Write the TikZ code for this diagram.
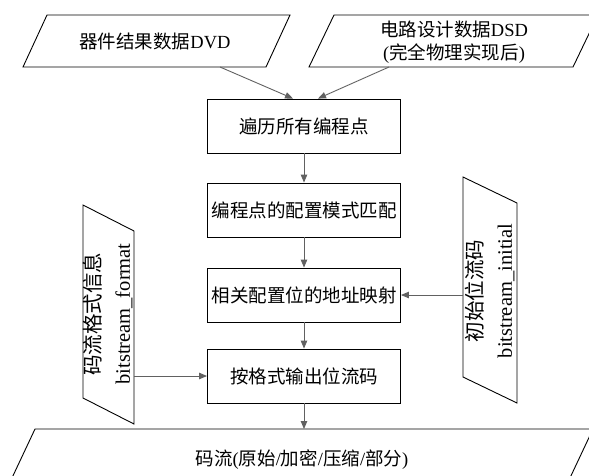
\documentclass[tikz,border=0pt]{standalone}
\usepackage{fontspec}
\setmainfont{Liberation Serif}
\newfontfamily\cjk{Noto Sans CJK SC}
\usetikzlibrary{arrows.meta}

\begin{document}
\begin{tikzpicture}[x=1pt,y=-1pt,line width=0.9pt,
  stepbox/.style={draw,minimum width=193pt,minimum height=54pt,inner sep=2pt,
    font=\fontsize{18.5}{23}\selectfont\cjk},
  iotext/.style={inner sep=2pt,align=center,font=\fontsize{18.5}{23}\selectfont},
  sidetext/.style={iotext,rotate=90,font=\fontsize{20.5}{29}\selectfont},
  arr/.style={draw=black!62,line width=0.9pt,-{Triangle[length=8pt,width=6.5pt]}}]
\useasboundingbox (0,0) rectangle (589,475);
% inputs
\draw (23,67) -- (47,15) -- (290,15) -- (266,67) -- cycle;
\node[iotext] (dvd) at (155,41) {{\cjk 器件结果数据}DVD};
\coordinate (dvdout) at (220,67);
\draw (309,67) -- (334,15) -- (598,15) -- (573,67) -- cycle;
\node[iotext] (dsd) at (454,42) {{\cjk 电路设计数据}DSD\\({\cjk 完全物理实现后})};
\coordinate (dsdout) at (389,67);
% steps
\node[stepbox] (trav) at (304,126) {遍历所有编程点};
\node[stepbox] (match) at (304,210) {编程点的配置模式匹配};
\node[stepbox] (map) at (304,295) {相关配置位的地址映射};
\node[stepbox] (out) at (304,376) {按格式输出位流码};
% side inputs
\draw (83,205) -- (134,231) -- (134,424) -- (83,398) -- cycle;
\node[sidetext] (fmt) at (108,314) {{\cjk 码流格式信息}\\bitstream\_format};
\coordinate (fmtout) at (134,376);
\draw (463,177) -- (517,203) -- (517,403) -- (463,377) -- cycle;
\node[sidetext] (init) at (490,291) {{\cjk 初始位流码}\\bitstream\_initial};
\coordinate (initout) at (463,295);
% output
\draw (11,480) -- (35,429) -- (593,429) -- (569,480) -- cycle;
\node[iotext] (stream) at (302,460) {{\cjk 码流}({\cjk 原始}/{\cjk 加密}/{\cjk 压缩}/{\cjk 部分})};
\coordinate (streamin) at (304,429);
% arrows
\draw[arr] (dvdout) -- ([xshift=-11pt]trav.north);
\draw[arr] (dsdout) -- ([xshift=14pt]trav.north);
\draw[arr] (trav) -- (match);
\draw[arr] (match) -- (map);
\draw[arr] (map) -- (out);
\draw[arr] (out) -- (streamin);
\draw[arr] (initout) -- (map);
\draw[arr] (fmtout) -- (out);
\end{tikzpicture}
\end{document}
